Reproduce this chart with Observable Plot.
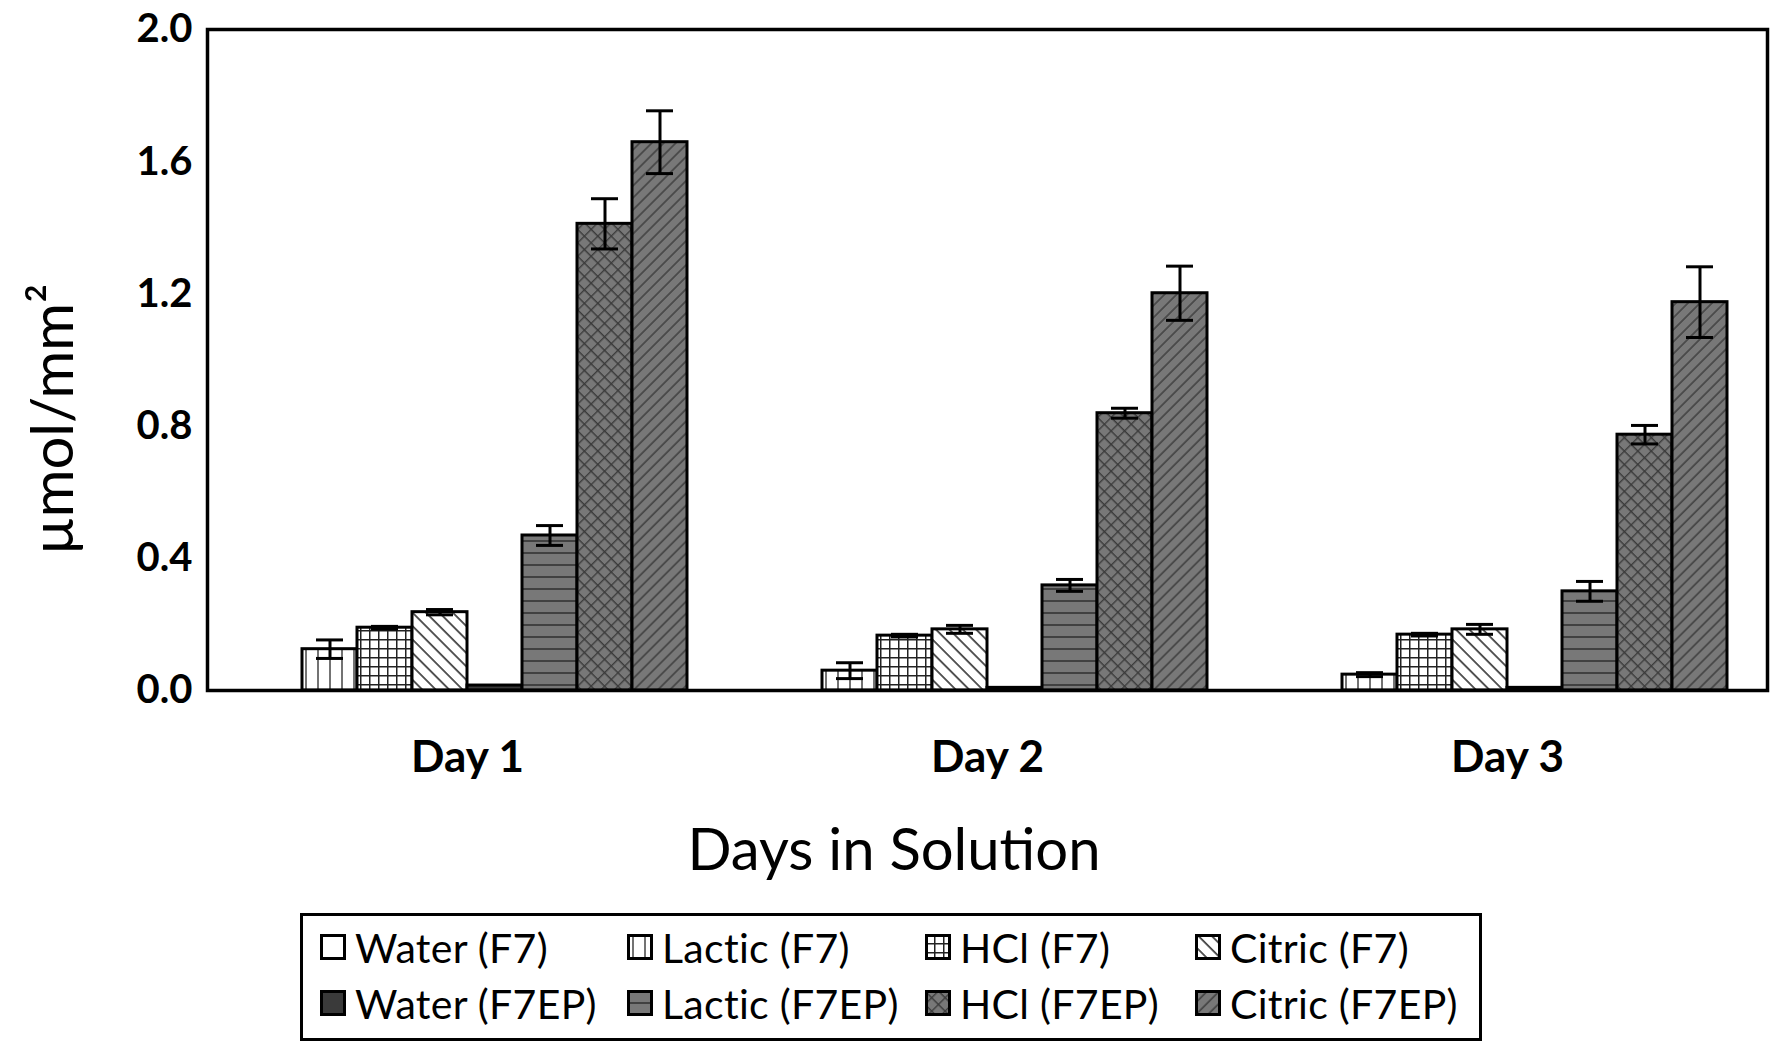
<!DOCTYPE html>
<html><head><meta charset="utf-8">
<script src="https://cdn.jsdelivr.net/npm/d3@7"></script>
<script src="https://cdn.jsdelivr.net/npm/@observablehq/plot@0.6"></script>
<style>
body{margin:0;background:#fff;font-family:Lato,"Open Sans",sans-serif;color:#000;}
#wrap{position:relative;width:1774px;height:1045px;overflow:hidden;}
#xtitle{position:absolute;left:894px;top:819px;transform:translateX(-50%);font-size:58px;line-height:58px;white-space:nowrap;}
#legend{position:absolute;left:300px;top:913px;width:1182px;height:128px;border:3px solid #000;box-sizing:border-box;padding:3px 0 0 17px;}
.row{display:flex;height:56px;align-items:center;}
.item{display:flex;align-items:center;font-size:41px;white-space:nowrap;letter-spacing:0.3px;}
.item svg{margin-right:9px;flex:none;}
</style></head>
<body><div id="wrap">
<svg width="0" height="0" style="position:absolute">
<defs>
<pattern id="pLactic" patternUnits="userSpaceOnUse" width="12" height="12"><rect width="12" height="12" fill="#fff"/><line x1="6" y1="0" x2="6" y2="12" stroke="#444" stroke-width="1.5"/></pattern>
<pattern id="pHcl" patternUnits="userSpaceOnUse" width="9" height="9"><rect width="9" height="9" fill="#fff"/><path d="M0 0.75H9M0.75 0V9" stroke="#222" stroke-width="1.5"/></pattern>
<pattern id="pCitric" patternUnits="userSpaceOnUse" width="9.5" height="9.5" patternTransform="rotate(-45)"><rect width="9.5" height="9.5" fill="#fff"/><line x1="1" y1="0" x2="1" y2="9.5" stroke="#222" stroke-width="1.5"/></pattern>
<pattern id="pLacticEP" patternUnits="userSpaceOnUse" width="12" height="12"><rect width="12" height="12" fill="#787878"/><line x1="0" y1="1" x2="12" y2="1" stroke="#333" stroke-width="1.6"/></pattern>
<pattern id="pHclEP" patternUnits="userSpaceOnUse" width="9.5" height="9.5" patternTransform="rotate(45)"><rect width="9.5" height="9.5" fill="#787878"/><path d="M0 0.7H9.5M0.7 0V9.5" stroke="#3a3a3a" stroke-width="1.3"/></pattern>
<pattern id="pCitricEP" patternUnits="userSpaceOnUse" width="8.5" height="8.5" patternTransform="rotate(45)"><rect width="8.5" height="8.5" fill="#787878"/><line x1="1" y1="0" x2="1" y2="8.5" stroke="#3a3a3a" stroke-width="1.4"/></pattern>
</defs></svg>
<div id="chart"></div>
<div id="xtitle">Days in Solution</div>
<div id="legend"></div>
</div>
<script>
const days = ["Day 1", "Day 2", "Day 3"];
const series = ["Water (F7)", "Lactic (F7)", "HCl (F7)", "Citric (F7)",
                "Water (F7EP)", "Lactic (F7EP)", "HCl (F7EP)", "Citric (F7EP)"];
const yTicks = [0, 0.4, 0.8, 1.2, 1.6, 2.0];
const yLabel = "µmol/mm²";

// mean values per series (Day 1, Day 2, Day 3)
const waterF7     = [0.0, 0.0, 0.0];
const lacticF7    = [0.125, 0.060, 0.048];
const hclF7       = [0.190, 0.166, 0.169];
const citricF7    = [0.237, 0.185, 0.185];
const waterF7EP   = [0.015, 0.008, 0.008];
const lacticF7EP  = [0.469, 0.318, 0.300];
const hclF7EP     = [1.412, 0.839, 0.774];
const citricF7EP  = [1.659, 1.202, 1.175];
// error (± half-range)
const waterF7Err    = [0, 0, 0];
const lacticF7Err   = [0.028, 0.024, 0.006];
const hclF7Err      = [0.004, 0.004, 0.004];
const citricF7Err   = [0.008, 0.012, 0.015];
const waterF7EPErr  = [0, 0, 0];
const lacticF7EPErr = [0.030, 0.018, 0.030];
const hclF7EPErr    = [0.076, 0.015, 0.028];
const citricF7EPErr = [0.095, 0.082, 0.107];

const values = [waterF7, lacticF7, hclF7, citricF7, waterF7EP, lacticF7EP, hclF7EP, citricF7EP];
const errors = [waterF7Err, lacticF7Err, hclF7Err, citricF7Err, waterF7EPErr, lacticF7EPErr, hclF7EPErr, citricF7EPErr];
const fills = ["#ffffff", "url(#pLactic)", "url(#pHcl)", "url(#pCitric)",
               "#3a3a3a", "url(#pLacticEP)", "url(#pHclEP)", "url(#pCitricEP)"];
const fillOf = Object.fromEntries(series.map((s, i) => [s, fills[i]]));

const data = [];
series.forEach((s, i) => days.forEach((d, j) => data.push({day: d, series: s, value: values[i][j], err: errors[i][j]})));
const errData = data.filter(d => d.err > 0);

const chart = Plot.plot({
  width: 1774, height: 800,
  marginLeft: 207, marginRight: 7, marginTop: 29, marginBottom: 110,
  style: {fontFamily: "Lato, 'Open Sans', sans-serif", color: "#000", background: "#fff"},
  fx: {domain: days, padding: 0},
  x: {domain: series, paddingInner: 0, paddingOuter: 0.708, axis: null},
  y: {domain: [0, 2]},
  color: {type: "identity"},
  marks: [
    Plot.barY(data, {fx: "day", x: "series", y: "value", fill: d => fillOf[d.series], stroke: "#000", strokeWidth: 3}),
    Plot.ruleX(errData, {fx: "day", x: "series", y1: d => d.value - d.err, y2: d => d.value + d.err, stroke: "#000", strokeWidth: 3}),
    Plot.tickY(errData, {fx: "day", x: "series", y: d => d.value + d.err, stroke: "#000", strokeWidth: 3, insetLeft: 14, insetRight: 14}),
    Plot.tickY(errData, {fx: "day", x: "series", y: d => d.value - d.err, stroke: "#000", strokeWidth: 3, insetLeft: 14, insetRight: 14}),
    Plot.frame({facet: "super", stroke: "#000", strokeWidth: 3.5}),
    Plot.axisY(yTicks, {tickFormat: d3.format(".1f"), tickSize: 0, tickPadding: 15, fontSize: 40, fontWeight: "bold", label: null}),
    Plot.axisFx({anchor: "bottom", tickSize: 0, tickPadding: 50, fontSize: 44, fontWeight: "bold", label: null}),
    Plot.text([yLabel], {facet: "super", frameAnchor: "left", rotate: -90, dx: -153, dy: 195, fontSize: 58})
  ]
});
document.getElementById("chart").appendChild(chart);

const legend = document.getElementById("legend");
const colW = [307, 298, 270, 260];
[series.slice(0, 4), series.slice(4)].forEach((rowItems, r) => {
  const row = document.createElement("div");
  row.className = "row";
  rowItems.forEach((s, c) => {
    const it = document.createElement("div");
    it.className = "item";
    it.style.width = colW[c] + "px";
    const idx = r * 4 + c;
    it.innerHTML = `<svg width="26" height="26"><rect x="1.5" y="1.5" width="23" height="23" fill="${fills[idx]}" stroke="#000" stroke-width="3"/></svg><span>${s}</span>`;
    row.appendChild(it);
  });
  legend.appendChild(row);
});
</script>
</body></html>
